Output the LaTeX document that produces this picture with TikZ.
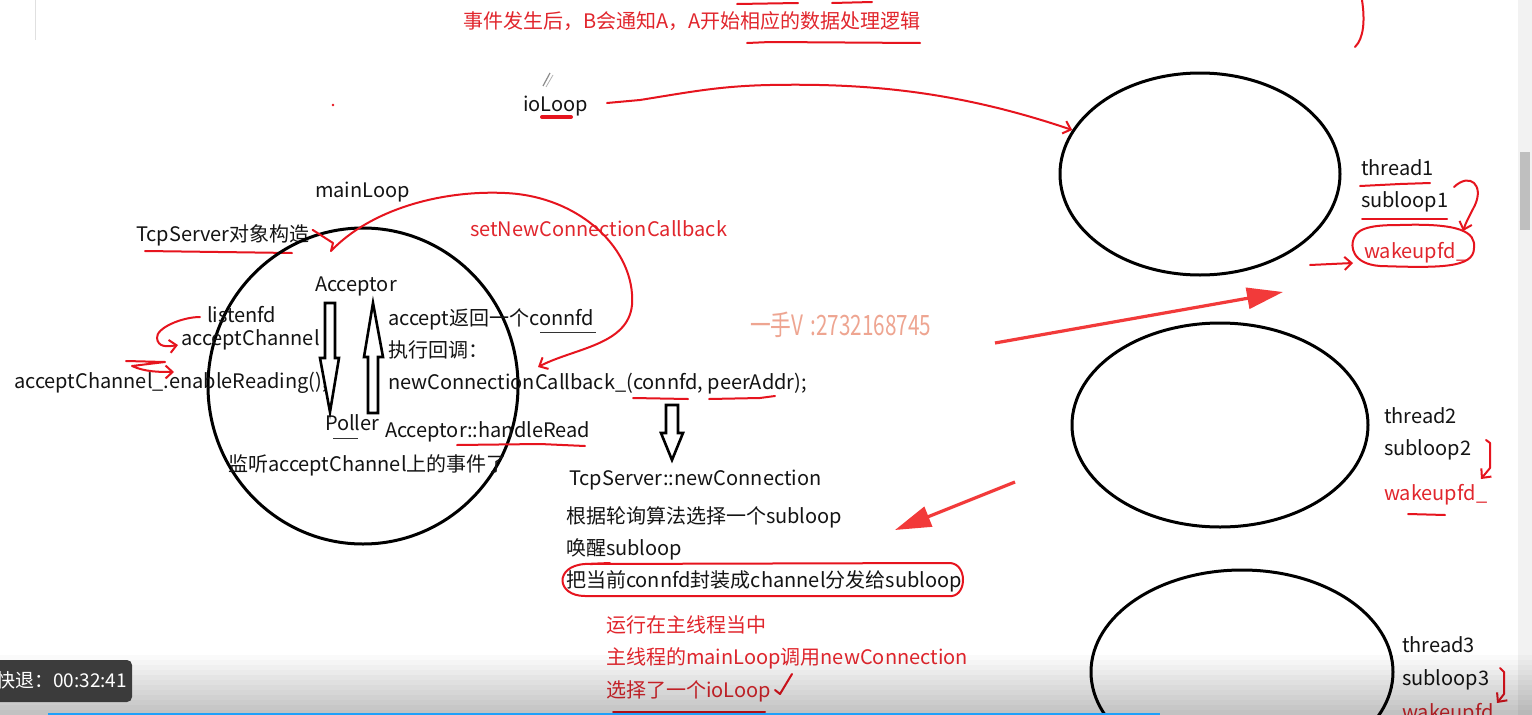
\documentclass[tikz,border=0pt]{standalone}
\usepackage{fontspec}
\setmainfont{Noto Sans CJK SC}
\usetikzlibrary{arrows.meta,shapes.geometric}
\definecolor{inkred}{RGB}{230,20,30}
\definecolor{txtred}{RGB}{225,38,45}
\definecolor{arrred}{RGB}{242,58,58}
\definecolor{wmark}{RGB}{238,165,145}
\definecolor{pbar}{RGB}{30,160,250}
\tikzset{
  t/.style={anchor=base west, inner sep=0pt, outer sep=0pt, font=\fontsize{20}{24}\selectfont, text=black!92},
  rt/.style={t, text=txtred},
  ink/.style={draw=inkred, line width=2pt, line cap=round, line join=round},
  barb/.style={-{Straight Barb[length=7pt,width=13pt,line width=2pt]}},
  ring/.style={ellipse, draw=black, line width=3pt, inner sep=0pt},
  hollow/.style={draw=black, line width=2.6pt, line join=miter, fill=white},
  bigarrow/.style={draw=arrred, line width=3.2pt, -{Triangle[length=36pt,width=21pt]}},
  uline/.style={draw=black!80, line width=1pt}
}
\begin{document}
\begin{tikzpicture}[x=1pt,y=-1pt]
\useasboundingbox (0,0) rectangle (1532,715);
\fill[white] (0,0) rectangle (1532,715);
% faint frame bits / scrollbar
\draw[black!12, line width=1pt] (35,0) -- (35,40);
\fill[black!5] (1518,0) rectangle (1532,715);
\fill[black!25] (1520,152) rectangle (1530,230);
% ---------- top ----------
\node[rt] (top) at (463,28) {事件发生后，B会通知A，A开始相应的数据处理逻辑};
\draw[ink] (737,4) -- (798,3);
\draw[ink] (832,3) -- (872,2);
\draw[ink] (747,43) -- (770,42) -- (920,43);
\draw[ink] (1362,0) .. controls (1365,20) and (1364,38) .. (1355,47);
\fill[inkred] (333,105) circle (1.3);
\draw[black!45, line width=1.2pt] (543,86) -- (550,73);
\draw[black!30, line width=0.8pt] (546,87) -- (553,75);
% ---------- ioLoop ----------
\node[t] (ioloop) at (523,111) {ioLoop};
\draw[inkred, line width=4pt, line cap=round] (542,117) -- (571,117);
\node[ring, minimum width=280pt, minimum height=202pt] (loop1) at (1200,174) {};
\node[ring, minimum width=296pt, minimum height=204pt] (loop2) at (1220,425) {};
\node[ring, minimum width=302pt, minimum height=204pt] (loop3) at (1242,672) {};
\coordinate (io0) at (607,103);
\draw[ink, barb] (io0) -- (640,100)
  .. controls (690,92) and (720,86) .. (770,85)
  .. controls (870,83) and (960,92) .. (loop1.161);
% ---------- main loop circle ----------
\node[t] (mainloop) at (315,197) {mainLoop};
\node[t] (tcpserver) at (136,241) {TcpServer对象构造};
\draw[ink] (145,251) -- (292,253);
\node[ring, minimum width=310pt, minimum height=316pt] (mainc) at (363,386) {};
\node[rt] (setcb) at (470,236) {setNewConnectionCallback};
\node[t] (acceptor) at (315,291) {Acceptor};
\node[t] (listenfd) at (207,322) {listenfd};
\node[t] (acch) at (181,345) {acceptChannel};
\node[t] (enable) at (14,388) {acceptChannel\_.enableReading();};
\node[t] (acret) at (388,325) {accept返回一个connfd};
\draw[uline] (540,332) -- (596,332);
\node[t] (exec) at (388,357) {执行回调：};
\node[t] (newcb) at (388,389) {newConnectionCallback\_(connfd, peerAddr);};
\node[t] (poller) at (325,430) {Poller};
\draw[uline] (333,438) -- (358,438);
\node[t] (handle) at (385,437) {Acceptor::handleRead};
\draw[ink] (457,445) -- (540,444) -- (585,446);
\node[t] (listen) at (228,471) {监听acceptChannel上的事件了};
% hollow arrows
\draw[hollow] (325,303) -- (335,303) -- (335,358) -- (339,358) -- (330,412) -- (320,358) -- (325,358) -- cycle;
\draw[hollow] (368,413) -- (378,413) -- (378,357) -- (383,357) -- (373,303) -- (364,357) -- (368,357) -- cycle;
% red hand-drawn connectors
\coordinate (cbtip) at (538,367);
\draw[ink, barb] (tcpserver.east) ++(3,-5) -- (333,243) -- (331,251)
  .. controls (370,210) and (440,190) .. (505,193)
  .. controls (580,196) and (636,250) .. (632,305)
  .. controls (628,345) and (575,348) .. (cbtip);
\coordinate (acchin) at (178,345);
\draw[ink, barb] (200,317) .. controls (182,317) and (156,328) .. (157,338)
  .. controls (158,347) and (166,347) .. (acchin);
\coordinate (enin) at (174,372);
\draw[ink, barb] (126,361) -- (165,362) -- (132,366) .. controls (145,372) and (160,372) .. (enin);
\draw[ink] (633,398) -- (688,399);
\draw[ink] (709,399) -- (760,398) -- (775,396);
% ---------- newConnection ----------
\draw[hollow] (666,405) -- (678,405) -- (678,433) -- (683,433) -- (672,460) -- (661,433) -- (666,433) -- cycle;
\node[t] (newconn) at (569,485) {TcpServer::newConnection};
\node[t] (rr) at (566,523) {根据轮询算法选择一个subloop};
\node[t] (wake) at (566,555) {唤醒subloop};
\node[t] (pack) at (566,587) {把当前connfd封装成channel分发给subloop};
\draw[ink] (590,564) -- (950,563) .. controls (967,564) and (967,594) .. (952,596)
  -- (585,596) .. controls (556,596) and (554,566) .. (585,564) -- (610,563);
\node[rt] (run1) at (606,632) {运行在主线程当中};
\node[rt] (run2) at (606,664) {主线程的mainLoop调用newConnection};
\node[rt] (run3) at (606,697) {选择了一个ioLoop};
\draw[ink] (775,690) -- (780,694) -- (792,674);
\draw[ink] (613,712) -- (765,712);
% watermark
\node[anchor=base west, inner sep=0pt, text=wmark, font=\fontsize{28}{30}\selectfont, xscale=0.74] (wm) at (750,335) {一手V\,\,:2732168745};
% big red arrows
\coordinate (ba1s) at (995,343);
\coordinate (ba1e) at (1283,292);
\draw[bigarrow] (ba1s) -- (ba1e);
\coordinate (ba2s) at (1015,482);
\coordinate (ba2e) at (895,530);
\draw[bigarrow] (ba2s) -- (ba2e);
% ---------- sub loops ----------
\node[t] (th1) at (1361,175) {thread1};
\draw[ink] (1360,186) -- (1400,184) -- (1430,183);
\node[t] (sl1) at (1361,207) {subloop1};
\draw[ink] (1362,219) -- (1447,219);
\node[rt] (wk1) at (1364,258) {wakeupfd\_};
\draw[ink] (1400,225) .. controls (1460,223) and (1476,232) .. (1474,248)
  .. controls (1474,268) and (1440,268) .. (1380,266)
  .. controls (1352,264) and (1350,246) .. (1354,238)
  .. controls (1358,226) and (1380,225) .. (1400,225);
\coordinate (wk1top) at (1463,231);
\draw[ink, barb] (1454,187) .. controls (1470,172) and (1484,185) .. (1475,205) .. controls (1470,215) and (1466,222) .. (wk1top);
\coordinate (wk1left) at (1353,263);
\draw[ink, barb] (1310,265) -- (wk1left);
\node[t] (th2) at (1384,423) {thread2};
\node[t] (sl2) at (1384,455) {subloop2};
\node[rt] (wk2) at (1384,500) {wakeupfd\_};
\draw[ink] (1408,514) -- (1445,515);
\coordinate (wk2top) at (1481,479);
\draw[ink, barb] (1486,440) -- (1490,443) -- (1490,468) -- (wk2top);
\node[t] (th3) at (1402,652) {thread3};
\node[t] (sl3) at (1402,685) {subloop3};
\node[rt] (wk3) at (1402,719) {wakeupfd\_};
\coordinate (wk3top) at (1497,703);
\draw[ink, barb] (1500,668) -- (1504,672) -- (1504,694) -- (wk3top);
% ---------- video player overlay ----------
\foreach \i in {0,...,12} {
  \fill[black, opacity=0.02*\i] (0,650+5*\i) rectangle (1532,655+5*\i);
}
\fill[black!80, opacity=0.95, rounded corners=5pt] (-10,660) rectangle (132,702);
\node[anchor=base west, inner sep=0pt, text=white, font=\fontsize{19}{22}\selectfont] (rew) at (-4,687) {快退：00:32:41};
\fill[pbar] (48,712.5) rectangle (1160,715);
\end{tikzpicture}
\end{document}
